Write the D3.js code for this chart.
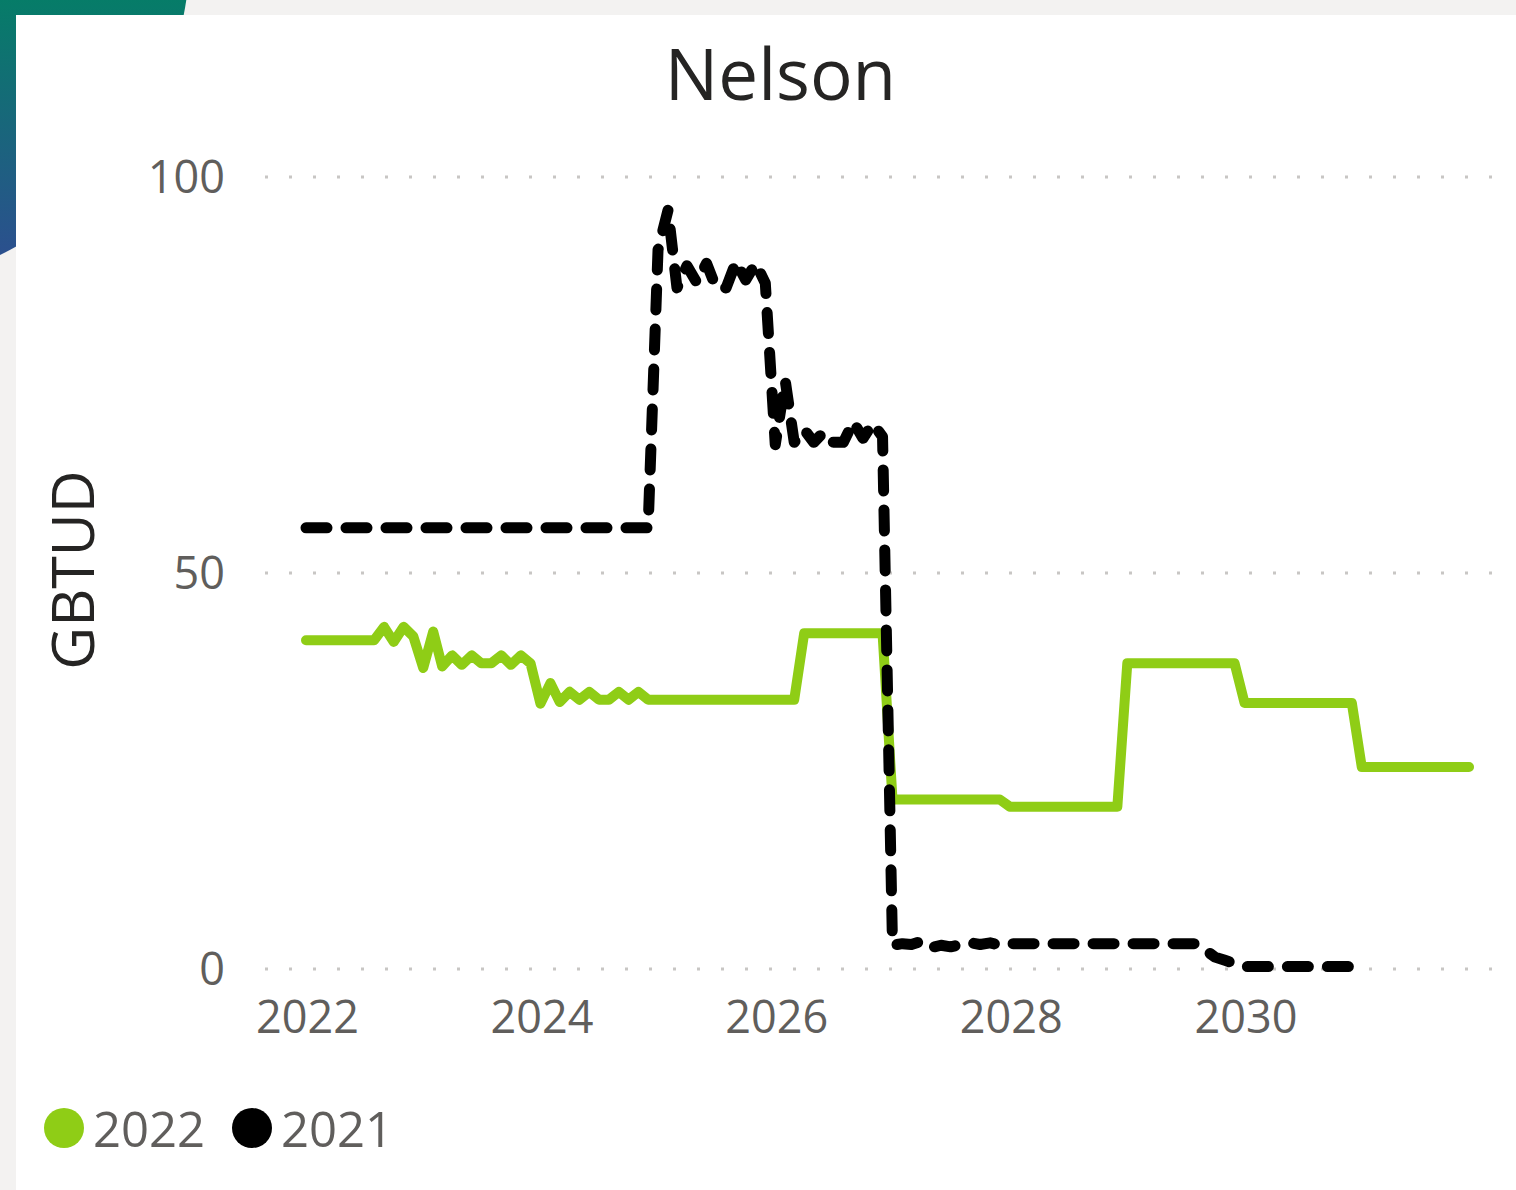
<!DOCTYPE html>
<html><head><meta charset="utf-8">
<script src="https://cdn.jsdelivr.net/npm/d3@7"></script>
<style>
html,body{margin:0;padding:0;background:#f3f2f1;}
svg{display:block;}
text{font-family:"Segoe UI","Open Sans","Noto Sans",sans-serif;}
</style></head><body>
<svg id="chart" width="1516" height="1190"></svg>
<script>
const chartTitle = "Nelson";
const yAxisLabel = "GBTUD";
const seriesNames = ["2022", "2021"];
const seriesColors = ["#8fcd16", "#000000"];
const xTickYears = [2022, 2024, 2026, 2028, 2030];
const yTickValues = [0, 50, 100];

// monthly values starting January 2022
const values2022 = [
  41.5,41.5,41.5,41.5,41.5,41.5,41.5,41.5,43.2,41.3,43.2,42.0,
  38.0,42.6,38.2,39.6,38.4,39.6,38.6,38.6,39.6,38.4,39.6,38.6,
  33.5,36.1,33.7,35.0,34.0,35.0,34.0,34.0,35.0,34.0,35.0,34.0,
  34.0,34.0,34.0,34.0,34.0,34.0,34.0,34.0,34.0,34.0,34.0,34.0,
  34.0,34.0,34.0,42.4,42.4,42.4,42.4,42.4,42.4,42.4,42.4,42.4,
  21.4,21.4,21.4,21.4,21.4,21.4,21.4,21.4,21.4,21.4,21.4,21.4,
  20.5,20.5,20.5,20.5,20.5,20.5,20.5,20.5,20.5,20.5,20.5,20.5,
  38.6,38.6,38.6,38.6,38.6,38.6,38.6,38.6,38.6,38.6,38.6,38.6,
  33.6,33.6,33.6,33.6,33.6,33.6,33.6,33.6,33.6,33.6,33.6,33.6,
  25.5,25.5,25.5,25.5,25.5,25.5,25.5,25.5,25.5,25.5,25.5,25.5
];
const values2021 = [
  55.7,55.7,55.7,55.7,55.7,55.7,55.7,55.7,55.7,55.7,55.7,55.7,
  55.7,55.7,55.7,55.7,55.7,55.7,55.7,55.7,55.7,55.7,55.7,55.7,
  55.7,55.7,55.7,55.7,55.7,55.7,55.7,55.7,55.7,55.7,55.7,55.7,
  90.8,95.8,86.0,88.8,86.7,89.1,86.0,86.0,89.3,87.0,89.1,86.6,
  66.2,74.3,66.5,68.1,66.5,67.8,66.5,66.5,69.1,67.0,68.9,67.2,
  3.0,3.2,3.1,3.5,2.7,3.0,2.8,3.1,3.3,3.1,3.3,3.0,
  3.2,3.2,3.2,3.2,3.2,3.2,3.2,3.2,3.2,3.2,3.2,3.2,
  3.2,3.2,3.2,3.2,3.2,3.2,3.2,3.2,2.4,1.5,1.1,0.7,
  0.3,0.3,0.3,0.3,0.3,0.3,0.3,0.3,0.3,0.3,0.3,0.3
];

const svg = d3.select("#chart");
const W = 1516, H = 1190;

// background decorations
const defs = svg.append("defs");
const grad = defs.append("linearGradient").attr("id","bgGrad")
  .attr("gradientUnits","userSpaceOnUse").attr("x1",0).attr("y1",0).attr("x2",0).attr("y2",260);
grad.append("stop").attr("offset","0%").attr("stop-color","#067c68");
grad.append("stop").attr("offset","100%").attr("stop-color","#2c4f8f");
svg.append("rect").attr("width",W).attr("height",H).attr("fill","#f3f2f1");
svg.append("circle").attr("cx",-150).attr("cy",-50).attr("r",340).attr("fill","url(#bgGrad)");
svg.append("rect").attr("x",16).attr("y",15).attr("width",W-16).attr("height",H-15).attr("fill","#ffffff");

const start = new Date(2022, 0, 1);
const months = values2022.map((v, i) => d3.timeMonth.offset(start, i));

const x = d3.scaleTime().domain([new Date(2022,0,1), new Date(2032,0,1)]).range([306, 1479]);
const y = d3.scaleLinear().domain([0, 100]).range([969, 177]);

const textGray = "#605e5c";

// gridlines
svg.append("g").selectAll("line").data(yTickValues).join("line")
  .attr("x1", 265).attr("x2", 1495)
  .attr("y1", d => y(d)).attr("y2", d => y(d))
  .attr("stroke", "#c8c6c4").attr("stroke-width", 3).attr("stroke-dasharray", "3,21");

// y axis labels
const yAxis = d3.axisLeft(y).tickValues(yTickValues).tickSize(0).tickPadding(0);
const gy = svg.append("g").attr("transform","translate(225,0)").call(yAxis);
gy.select(".domain").remove();
gy.selectAll("text").attr("fill", textGray).style("font-size","45px")
  .style("font-family",'"Segoe UI","Open Sans","Noto Sans",sans-serif').attr("dy","0.35em");

// x axis labels
const xAxis = d3.axisBottom(x).tickValues(xTickYears.map(yr => new Date(yr,0,1)))
  .tickFormat(d3.timeFormat("%Y")).tickSize(0).tickPadding(0);
const gx = svg.append("g").attr("transform","translate(1,1033)").call(xAxis);
gx.select(".domain").remove();
gx.selectAll("text").attr("fill", textGray).style("font-size","45px")
  .style("font-family",'"Segoe UI","Open Sans","Noto Sans",sans-serif').attr("dy","0");

// lines
const line = d3.line().x((d, i) => x(months[i])).y(d => y(d));
svg.append("path").datum(values2022).attr("d", line)
  .attr("fill","none").attr("stroke", seriesColors[0]).attr("stroke-width", 10)
  .attr("stroke-linejoin","round").attr("stroke-linecap","round");
svg.append("path").datum(values2021).attr("d", line)
  .attr("fill","none").attr("stroke", seriesColors[1]).attr("stroke-width", 11)
  .attr("stroke-dasharray","21,19")
  .attr("stroke-linejoin","round").attr("stroke-linecap","round");

// title
svg.append("text").attr("x", 780.5).attr("y", 100).attr("text-anchor","middle")
  .attr("fill","#252423").style("font-size","71px").text(chartTitle);

// y axis title
svg.append("text").attr("transform","translate(94,570) rotate(-90)").attr("text-anchor","middle")
  .attr("fill","#252423").style("font-size","59px").text(yAxisLabel);

// legend
const legendX = [64, 252];
const lg = svg.append("g");
seriesNames.forEach((name, i) => {
  lg.append("circle").attr("cx", legendX[i]).attr("cy", 1128).attr("r", 20).attr("fill", seriesColors[i]);
  lg.append("text").attr("x", legendX[i] + 29).attr("y", 1147).attr("fill", textGray)
    .style("font-size","49px").text(name);
});
</script>
</body></html>
